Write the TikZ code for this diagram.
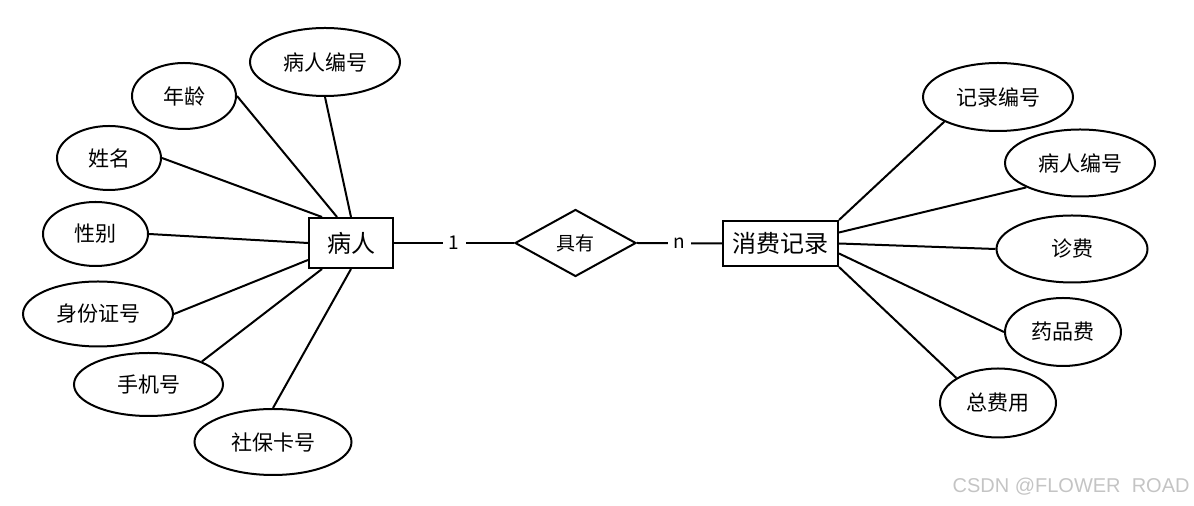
\documentclass[tikz,border=0pt]{standalone}
\usepackage{fontspec}
\setmainfont{Noto Sans CJK SC}
\newfontfamily\markfont{Liberation Sans}
\usetikzlibrary{shapes.geometric}
\definecolor{markgray}{RGB}{196,196,196}
\newcommand{\fsz}[1]{\fontsize{#1}{#1}\selectfont}

\tikzset{
  base/.style={line width=1pt},
  entity/.style={base, draw, rectangle, inner sep=0pt, font=\fsz{12pt}},
  attr/.style={base, draw, ellipse, inner sep=0pt, minimum width=75pt, minimum height=33pt, font=\fsz{10.5pt}},
  rel/.style={base, draw, diamond, inner sep=0pt, minimum width=60.5pt, minimum height=33.5pt, font=\fsz{9.5pt}},
  card/.style={fill=white, inner sep=0pt, minimum width=11.5pt, minimum height=9pt, font=\fsz{9.5pt}},
  link/.style={base}
}

\begin{document}
\begin{tikzpicture}[x=0.5pt, y=-0.5pt]
  \useasboundingbox (0,0) rectangle (1194,506);

  % entities and relationship
  \node[entity, minimum width=42pt, minimum height=25pt] (patient) at (351,243) {病人};
  \node[rel] (has) at (575.5,243) {具有};
  \node[entity, minimum width=57.5pt, minimum height=22.5pt] (record) at (780.5,243.5) {消费记录};

  % attributes of 病人
  \node[attr, minimum width=75pt, minimum height=34pt] (pid) at (325,62) {病人编号};
  \node[attr, minimum width=52pt, minimum height=33pt] (age) at (184,96) {年龄};
  \node[attr, minimum width=52pt, minimum height=32pt] (name) at (109,158) {姓名};
  \node[attr, minimum width=52.5pt, minimum height=32pt] (sex) at (95.5,234) {性别};
  \node[attr, minimum width=75pt, minimum height=32.5pt] (idno) at (98,314) {身份证号};
  \node[attr, minimum width=74.5pt, minimum height=31.5pt] (phone) at (148.5,384.5) {手机号};
  \node[attr, minimum width=78.5pt, minimum height=33pt] (card) at (273,442) {社保卡号};

  % attributes of 消费记录
  \node[attr, minimum width=75pt, minimum height=34pt] (rid) at (998,97) {记录编号};
  \node[attr, minimum width=75pt, minimum height=33.5pt] (rpid) at (1080,163) {病人编号};
  \node[attr, minimum width=75.5pt, minimum height=33.5pt] (fee) at (1072,249) {诊费};
  \node[attr, minimum width=58pt, minimum height=34pt] (drug) at (1063,332) {药品费};
  \node[attr, minimum width=58pt, minimum height=34.5pt] (total) at (998,403) {总费用};

  % relationship lines with cardinalities
  \draw[link] (patient.east) -- node[card] {1} (has.west);
  \draw[link] (has.east) -- node[card] {n} (record.west);

  % 病人 attribute lines
  \draw[link] (pid.south) -- (patient.north);
  \draw[link] (age.east) -- ([shift={(-14,0)}]patient.north);
  \draw[link] (name.east) -- ([shift={(14,0)}]patient.north west);
  \draw[link] (sex.east) -- (patient.west);
  \draw[link] (idno.east) -- ([shift={(0,17)}]patient.west);
  \draw[link] (phone.north east) -- ([shift={(14,0)}]patient.south west);
  \draw[link] (card.north) -- (patient.south);

  % 消费记录 attribute lines
  \draw[link] (record.north east) -- (rid.south west);
  \draw[link] ([shift={(0,-11)}]record.east) -- (rpid.south west);
  \draw[link] (record.east) -- (fee.west);
  \draw[link] ([shift={(0,10)}]record.east) -- (drug.west);
  \draw[link] (record.south east) -- (total.north west);

  % watermark
  \node[anchor=east, inner sep=0pt, text=markgray, font=\markfont\fsz{10pt}] (mark) at (1190,487) {CSDN @FLOWER\ \ ROAD};
\end{tikzpicture}
\end{document}
